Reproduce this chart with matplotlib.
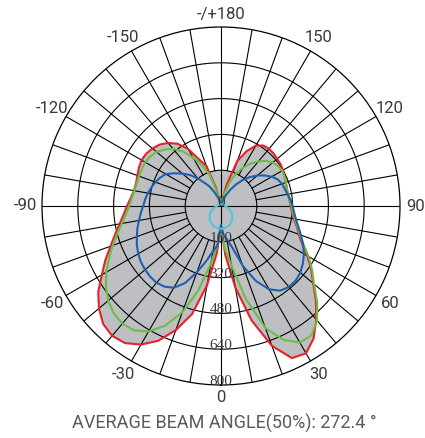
import numpy as np
import matplotlib
matplotlib.use("Agg")
import matplotlib.pyplot as plt

# ---- data (candela values every 5 degrees, -180 .. 180) ----
angles = list(range(-180, 185, 5))

red = [5, 8, 18, 80, 190, 228, 295, 340, 368, 388, 400, 408, 410, 405, 398, 393,
       395, 405, 420, 437, 460, 490, 525, 570, 615, 670, 712, 745, 757, 748, 715,
       665, 590, 500, 360, 210, 90,
       220, 370, 530, 665, 750, 760, 722, 662, 600, 538, 492, 445, 400, 370, 350,
       330, 318, 312, 307, 304, 305, 308, 314, 320, 325, 328, 332, 334, 330, 312,
       270, 215, 100, 25, 10, 5]

green = [5, 8, 18, 60, 150, 200, 250, 298, 333, 357, 376, 386, 391, 391, 390, 390,
         393, 400, 410, 427, 450, 480, 515, 552, 592, 628, 658, 678, 686, 678, 648,
         590, 505, 390, 260, 170, 90,
         190, 270, 430, 580, 660, 705, 705, 668, 608, 543, 497, 452, 407, 375, 353,
         335, 322, 315, 308, 303, 305, 308, 313, 315, 311, 302, 285, 260, 232, 198,
         160, 115, 55, 20, 8, 5]

blue = [5, 8, 15, 25, 40, 65, 99, 125, 160, 196, 225, 255, 285, 300, 312, 322,
        332, 340, 348, 360, 372, 387, 400, 415, 427, 437, 443, 447, 448, 440, 422,
        380, 315, 255, 205, 175, 85,
        130, 150, 190, 285, 370, 430, 462, 472, 472, 463, 447, 428, 405, 380, 358,
        340, 328, 320, 312, 302, 295, 290, 280, 262, 238, 212, 183, 152, 118, 85,
        55, 33, 20, 12, 7, 5]

cyan_angles = list(range(-180, 190, 10))
cyan = [5, 5, 6, 8, 10, 12, 14, 15, 16, 18, 26, 38, 52, 66, 78, 88, 96, 100,
        102,
        100, 96, 88, 78, 66, 52, 38, 26, 18, 16, 15, 14, 12, 10, 8, 6, 5, 5]

radial_ticks = [160, 320, 480, 640, 800]
radial_labels = ["0", "160", "320", "480", "640", "800"]
angle_ticks = [0, 30, 60, 90, 120, 150, 180, -150, -120, -90, -60, -30]
angle_labels = ["0", "30", "60", "90", "120", "150", "-/+180",
                "-150", "-120", "-90", "-60", "-30"]
title = "AVERAGE BEAM ANGLE(50%): 272.4 °"

GRAY = "#bebfc3"

fig = plt.figure(figsize=(4.25, 4.38), dpi=100)
ax = fig.add_axes([42 / 425, 53 / 438, 358 / 425, 358 / 438], projection="polar")
ax.set_theta_zero_location("S")
ax.set_theta_direction(1)
ax.set_ylim(0, 800)
ax.grid(False)
ax.set_xticks([])
ax.set_yticks([])
ax.spines["polar"].set_color("black")
ax.spines["polar"].set_linewidth(0.9)

th = np.deg2rad(angles)
circ = np.linspace(0, 2 * np.pi, 721)

# grey filled areas
ax.fill(th, red, color=GRAY, lw=0, zorder=1)
ax.fill(circ, np.full(circ.size, radial_ticks[0]), color=GRAY, lw=0, zorder=1)

# grid
for r in radial_ticks[:-1]:
    ax.plot(circ, np.full(circ.size, r), color="black", lw=0.8, zorder=2)
for a in range(0, 360, 10):
    ax.plot([np.deg2rad(a)] * 2, [radial_ticks[0], radial_ticks[-1]],
            color="black", lw=0.8, zorder=2)
for a in (0, 90, 180, 270):
    ax.plot([np.deg2rad(a)] * 2, [0, radial_ticks[0]], color="black", lw=0.8, zorder=2)

# curves
ax.plot(th, red, color="#e8202a", lw=1.5, zorder=4)
ax.plot(th, green, color="#6cbd45", lw=1.5, zorder=4)
ax.plot(th, blue, color="#1f5fb0", lw=1.5, zorder=4)
ax.plot(np.deg2rad(cyan_angles), cyan, color="#4cc8d8", lw=1.5, zorder=4)

# radial labels
for r, lab in zip([0] + radial_ticks, radial_labels):
    ax.text(0, r, lab, ha="center", va="baseline", fontsize=11,
            family="Liberation Serif", color="#3a3a3a", zorder=5)

# angle labels
for a, lab in zip(angle_ticks, angle_labels):
    rr = 858 if a in (0, 180) else 872
    ax.text(np.deg2rad(a), rr, lab, ha="center", va="center", fontsize=12,
            family="Roboto", color="#3a3a3a")

fig.text(224 / 425, 1 - 423 / 438, title, ha="center", va="center",
         fontsize=13, family="Roboto", color="#5a5a5a")

fig.savefig("out.png", dpi=100)
